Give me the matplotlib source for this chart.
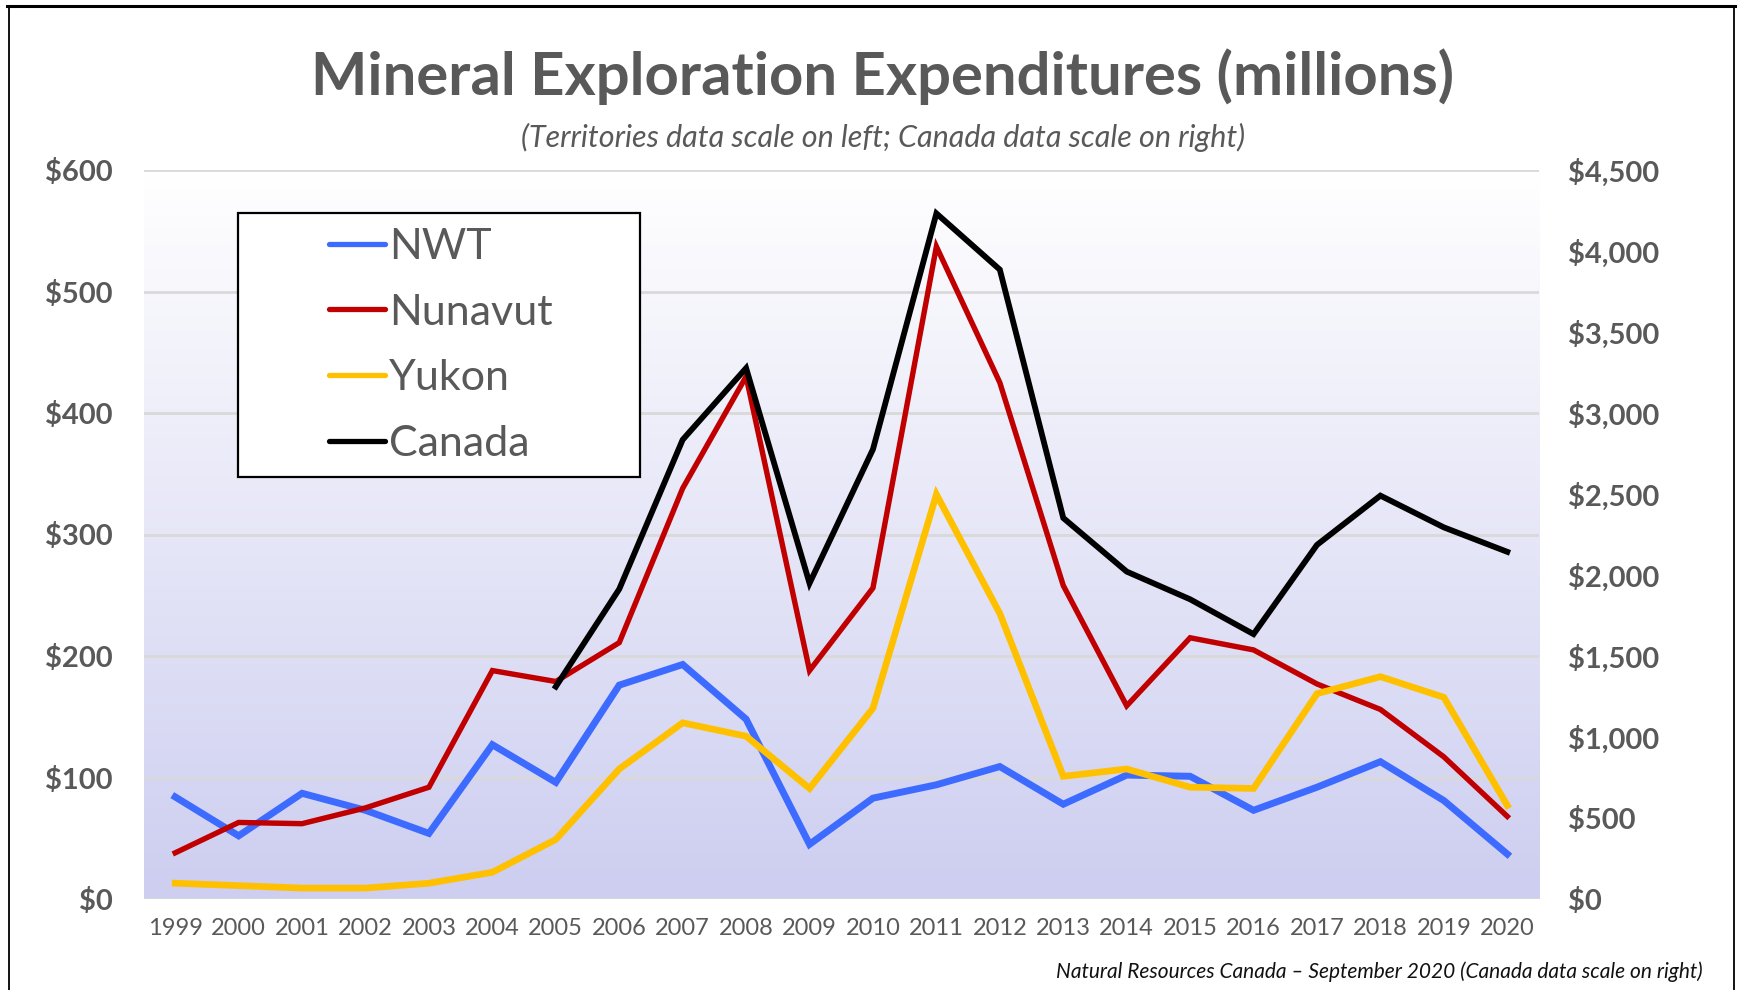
import numpy as np
import matplotlib
matplotlib.use("Agg")
from matplotlib import pyplot as plt
from matplotlib.lines import Line2D
from matplotlib.patches import Rectangle
from matplotlib.ticker import FuncFormatter, FixedLocator

years = list(range(1999, 2021))

# Territories [millions, left axis]
nwt = [84, 52, 87, 73, 54, 127, 96, 176, 193, 148, 45, 83, 94, 109,
       78, 102, 101, 73, 92, 113, 81, 37]
nunavut = [38, 63, 62, 75, 92, 188, 179, 211, 338, 430, 188, 256, 537, 425,
           258, 159, 215, 205, 177, 156, 117, 68]
yukon = [13, 11, 9, 9, 13, 22, 49, 107, 145, 134, 91, 157, 333, 235,
         101, 107, 92, 91, 169, 183, 166, 77]

# Canada [millions, right axis], starts 2005
canada_years = list(range(2005, 2021))
canada = [1311, 1913, 2835, 3277, 1949, 2776, 4232, 3885, 2352, 2021,
          1850, 1635, 2186, 2490, 2294, 2143]

left_ticks = [0, 100, 200, 300, 400, 500, 600]
right_ticks = [0, 500, 1000, 1500, 2000, 2500, 3000, 3500, 4000, 4500]

GREY = '#595959'
FONT = ['Lato', 'DejaVu Sans']
W, H = 1742, 990


def main():
    plt.rcParams['font.family'] = FONT
    fig = plt.figure(figsize=(W / 100, H / 100), dpi=100)
    ax = fig.add_axes([143.5 / W, 1 - 899 / H, (1539 - 143.5) / W, (899 - 170) / H])
    ax2 = ax.twinx()

    # gradient background, white at top to lavender at bottom
    top = np.array([255, 255, 255]) / 255
    bot = np.array([205, 206, 240]) / 255
    t = np.linspace(0, 1, 256)[:, None]
    grad = top + (bot - top) * t
    ax.imshow(grad[:, None, :], aspect='auto', extent=[0, 1, 0, 1],
              transform=ax.transAxes, zorder=0)

    x = np.arange(len(years))
    xc = np.array([years.index(y) for y in canada_years])

    ax.plot(x, nwt, color='#3D6BFF', lw=5.0, solid_joinstyle='miter', zorder=3, label='NWT')
    ax.plot(x, nunavut, color='#C00000', lw=3.9, solid_joinstyle='miter', zorder=3, label='Nunavut')
    ax.plot(x, yukon, color='#FFC000', lw=4.8, solid_joinstyle='miter', zorder=3, label='Yukon')
    ax2.plot(xc, canada, color='black', lw=4.2, solid_joinstyle='miter', zorder=3, label='Canada')

    ax.set_xlim(-0.5, len(years) - 0.5)
    ax.set_ylim(0, 600)
    ax2.set_ylim(0, 4500)
    ax.yaxis.set_major_locator(FixedLocator(left_ticks))
    ax2.yaxis.set_major_locator(FixedLocator(right_ticks))
    money = FuncFormatter(lambda v, p: '${:,.0f}'.format(v))
    ax.yaxis.set_major_formatter(money)
    ax2.yaxis.set_major_formatter(money)

    ax.set_xticks(x)
    ax.set_xticklabels([str(y) for y in years])
    ax.tick_params(axis='x', length=0, pad=14, labelsize=17, labelcolor=GREY)
    ax.tick_params(axis='y', length=0, pad=22, labelsize=21, labelcolor=GREY)
    ax2.tick_params(axis='y', length=0, pad=21, labelsize=21, labelcolor=GREY)
    for lab in ax.get_yticklabels() + ax2.get_yticklabels():
        lab.set_fontweight('bold')

    ax.grid(True, axis='y', color='#D9D9D9', lw=2, zorder=1)
    ax.set_axisbelow(True)
    for a in (ax, ax2):
        for s in a.spines.values():
            s.set_visible(False)
    ax2.patch.set_visible(False)

    # legend box drawn separately, entries placed inside it
    fig.add_artist(Rectangle((238 / W, 1 - 477 / H), (640 - 238) / W, (477 - 213) / H,
                             transform=fig.transFigure, facecolor='white',
                             edgecolor='black', lw=1.6, zorder=4))
    h1, l1 = ax.get_legend_handles_labels()
    h2, l2 = ax2.get_legend_handles_labels()
    leg = fig.legend(h1 + h2, l1 + l2, loc='upper left',
                     bbox_to_anchor=(329 / W, 1 - 228 / H),
                     fontsize=31, frameon=False, borderpad=0,
                     handlelength=1.3, handletextpad=0.1, labelspacing=0.64,
                     borderaxespad=0)
    leg.set_zorder(5)
    for txt in leg.get_texts():
        txt.set_color(GREY)
    for ln in leg.get_lines():
        ln.set_linewidth(3.8)
        ln.set_solid_capstyle('round')

    fig.text(883 / W, 1 - 77 / H, 'Mineral Exploration Expenditures (millions)',
             ha='center', va='center', fontsize=43, fontweight='bold', color=GREY)
    fig.text(883 / W, 1 - 137 / H,
             '(Territories data scale on left; Canada data scale on right)',
             ha='center', va='center', fontsize=22, style='italic', color=GREY)
    fig.text(1703 / W, 1 - 972 / H,
             'Natural Resources Canada \u2013 September 2020 (Canada data scale on right)',
             ha='right', va='center', fontsize=15, style='italic', color='#111111')

    # outer frame of the screenshot
    fig.add_artist(Line2D([0.004, 0.996], [0.994, 0.994], color='black', lw=2.2,
                          transform=fig.transFigure))
    fig.add_artist(Line2D([0.005, 0.005], [0, 0.994], color='black', lw=1.3,
                          transform=fig.transFigure))
    fig.add_artist(Line2D([0.9955, 0.9955], [0, 0.994], color='black', lw=1.3,
                          transform=fig.transFigure))

    fig.savefig('out.png', dpi=100)


if __name__ == '__main__':
    main()
